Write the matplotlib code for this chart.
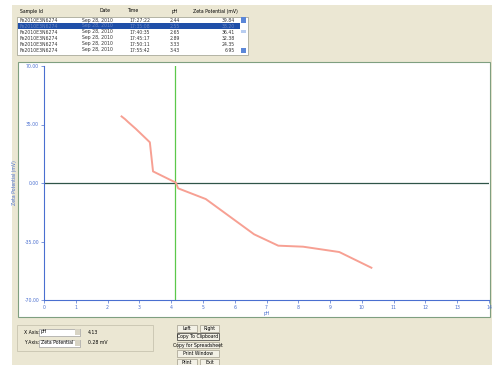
import matplotlib
matplotlib.use("Agg")
import matplotlib.pyplot as plt
from matplotlib.patches import Rectangle

# titration run: pH vs zeta potential
ph = [2.44, 2.55, 2.65, 2.89, 3.33, 3.43, 4.15, 4.22, 5.09, 6.61, 7.37, 8.15, 9.29, 10.3]
zeta = [39.84, 38.2, 36.41, 32.38, 24.35, 6.95, 0.2, -3.2, -9.6, -30.7, -37.5, -38.1, -41.3, -50.7]

# sample list shown above the plot
sample_ids = ["Fe2010E3N6274"] * 6
dates = ["Sep 28, 2010"] * 6
times = ["17:27:22", "17:35:08", "17:40:35", "17:45:17", "17:50:11", "17:55:42"]
row_ph = ["2.44", "2.55", "2.65", "2.89", "3.33", "3.43"]
row_zeta = ["39.84", "38.20", "36.41", "32.38", "24.35", "6.95"]

x_ticks = list(range(0, 15))
y_ticks = [-70, -35, 0, 35, 70]
cursor_ph = 4.13
cursor_zeta = 0.28

W, H = 492, 365
BEIGE = "#ebe7d3"
BLUE = "#4a6fd0"
FS = 3.3

fig = plt.figure(figsize=(W / 100, H / 100), dpi=100)
fig.patch.set_facecolor("white")


def box(x0, y0, x1, y1, **kw):
    # pixel rectangle (top-left origin) in figure coords
    kw.setdefault("zorder", -1)
    fig.add_artist(Rectangle((x0 / W, 1 - y1 / H), (x1 - x0) / W, (y1 - y0) / H,
                             transform=fig.transFigure, **kw))


def label(x, y, s, **kw):
    kw.setdefault("fontsize", FS)
    kw.setdefault("va", "center")
    fig.text(x / W, 1 - y / H, s, **kw)


# window background
box(12, 5, W, H, facecolor=BEIGE, edgecolor="none", zorder=-3)

# sample table
label(20, 11, "Sample Id")
label(105, 11, "Date", ha="center")
label(133, 11, "Time", ha="center")
label(175, 11, "pH", ha="center")
label(238, 11, "Zeta Potential (mV)", ha="right")
box(17, 17, 248, 55, facecolor="white", edgecolor="#9a9a8a", linewidth=0.5, zorder=-2)
row_y = [20.5, 26, 32, 38, 44, 50]
for i, y in enumerate(row_y):
    color = "#333333"
    if i == 1:
        box(18, 23, 240, 29, facecolor="#1f4fa8", edgecolor="none")
        color = "#6d86c0"
    label(20, y, sample_ids[i], color=color)
    label(113, y, dates[i], ha="right", color=color)
    label(129, y, times[i], color=color)
    label(175, y, row_ph[i], ha="center", color=color)
    label(235, y, row_zeta[i], ha="right", color=color)
# scrollbar
for y in (20, 50):
    box(241, y - 2.5, 246, y + 2.5, facecolor="#5b87d8", edgecolor="none")
box(241, 30, 246, 33, facecolor="#b8cdf0", edgecolor="none")

# plot panel
box(18, 62, 490, 317, facecolor="white", edgecolor="#7f9f80", linewidth=0.8, zorder=-2)

ax = fig.add_axes([44 / W, 1 - 300 / H, 445 / W, 234 / H])
ax.set_zorder(5)
ax.set_facecolor("none")
ax.plot(ph, zeta, color="#f7a093", linewidth=1.4, zorder=3)
ax.axhline(0, color="#2f5548", linewidth=0.9, zorder=2)
ax.axvline(cursor_ph, color="#5cc84a", linewidth=0.9, zorder=2)

ax.set_xlim(0, 14)
ax.set_ylim(-70, 70)
ax.set_xticks(x_ticks)
ax.set_xticklabels([str(t) for t in x_ticks])
ax.set_yticks(y_ticks)
ax.set_yticklabels(["%.2f" % t for t in y_ticks])
for side in ("top", "right"):
    ax.spines[side].set_visible(False)
for side in ("left", "bottom"):
    ax.spines[side].set_color(BLUE)
    ax.spines[side].set_linewidth(0.8)
ax.tick_params(colors=BLUE, labelsize=FS, length=2, width=0.5, pad=1.5)
ax.set_xlabel("pH", fontsize=FS, color=BLUE, labelpad=1)
ax.set_ylabel("Zeta Potential (mV)", fontsize=FS, color=BLUE, labelpad=5)

# axis selection group
box(17, 325, 153, 351, facecolor="none", edgecolor="#c8c4b0", linewidth=0.6)
label(24, 332, "X Axis:")
box(39, 328.5, 80, 335.5, facecolor="white", edgecolor="#8a8a8a", linewidth=0.4)
label(41, 332, "pH")
box(75, 329, 79.5, 335, facecolor="#d8d4c4", edgecolor="none", zorder=0)
label(88, 332, "%.2f" % cursor_ph)
label(24, 343, "Y Axis:")
box(39, 339.5, 80, 346.5, facecolor="white", edgecolor="#8a8a8a", linewidth=0.4)
label(41, 343, "Zeta Potential")
box(75, 340, 79.5, 346, facecolor="#d8d4c4", edgecolor="none", zorder=0)
label(88, 343, "%.2f mV" % cursor_zeta)

# buttons
buttons = [
    (177, 325, 197, 332, "Left"),
    (200, 325, 219, 332, "Right"),
    (177, 333, 219, 340, "Copy To Clipboard"),
    (177, 342, 219, 348, "Copy for Spreadsheet"),
    (177, 350, 219, 357, "Print Window"),
    (177, 359, 197, 366, "Print"),
    (200, 359, 219, 366, "Exit"),
]
for x0, y0, x1, y1, name in buttons:
    edge = "#333333" if name == "Copy To Clipboard" else "#a09c8c"
    box(x0, y0, x1, y1, facecolor="#f3f1e6", edgecolor=edge, linewidth=0.5)
    label((x0 + x1) / 2, (y0 + y1) / 2, name, ha="center")

fig.savefig("out.png", dpi=100, facecolor=fig.get_facecolor())
